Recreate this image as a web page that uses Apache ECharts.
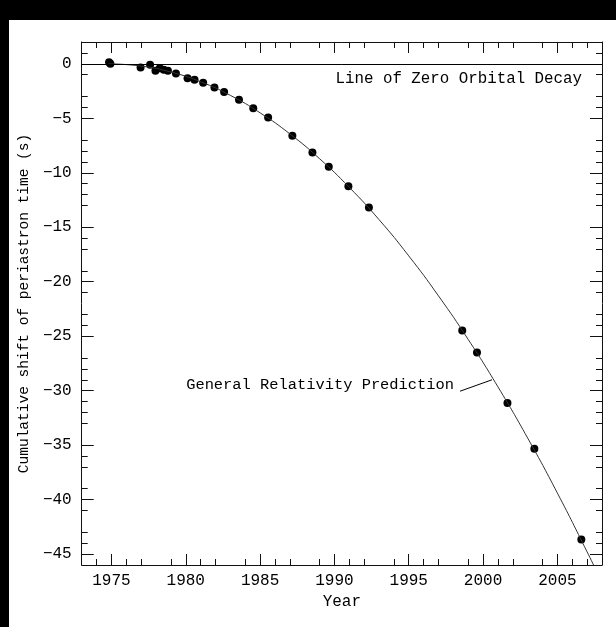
<!DOCTYPE html>
<html>
<head>
<meta charset="utf-8">
<script src="https://cdn.jsdelivr.net/npm/echarts@6/dist/echarts.min.js"></script>
<style>
html, body { margin: 0; padding: 0; background: #000; overflow: hidden; }
#main { position: absolute; left: 9px; top: 20px; width: 607px; height: 607px; background: #fff; }
</style>
</head>
<body>
<div id="main"></div>
<script>
// measured cumulative shift of periastron time (s)
const obsYears = [1974.84, 1974.93, 1976.96, 1977.6, 1977.96, 1978.25, 1978.52, 1978.8, 1979.34,
  1980.12, 1980.59, 1981.17, 1981.93, 1982.58, 1983.58, 1984.54, 1985.54, 1987.17, 1988.52,
  1989.62, 1990.94, 1992.32, 1998.6, 1999.59, 2001.64, 2003.45, 2006.61]
const obsShift = [0.15, 0.0, -0.34, -0.09, -0.64, -0.4, -0.55, -0.64, -0.89,
  -1.32, -1.47, -1.74, -2.17, -2.6, -3.3, -4.07, -4.93, -6.6, -8.15,
  -9.45, -11.23, -13.2, -24.47, -26.5, -31.14, -35.32, -43.67]

// general relativity prediction
const grYears = [1974.8, 1977, 1979, 1981, 1983, 1985, 1987, 1989, 1991, 1993, 1995,
  1997, 1999, 2001, 2003, 2005, 2007, 2008]
const grShift = [0, -0.21, -0.76, -1.65, -2.9, -4.5, -6.43, -8.71, -11.34, -14.3, -17.63,
  -21.3, -25.3, -29.65, -34.35, -39.4, -44.8, -47.6]

const xMajorTicks = [1975, 1980, 1985, 1990, 1995, 2000, 2005]
const yMajorTicks = [-45, -40, -35, -30, -25, -20, -15, -10, -5, 0]

const FONT = 'Liberation Mono'
const ink = '#111'

const chart = echarts.init(document.getElementById('main'))

// scale steps are chosen so the minor ticks land on every whole unit;
// the long ticks and the labels come from the custom value lists
function xAxis(position) {
  const labelled = position === 'bottom'
  return {
    type: 'value',
    position,
    min: 1973,
    max: 2008,
    interval: 5,
    splitLine: { show: false },
    axisLine: { onZero: false, lineStyle: { color: ink, width: 1 } },
    axisTick: { inside: true, length: 11, customValues: xMajorTicks, lineStyle: { color: ink } },
    minorTick: { show: true, splitNumber: 5, length: 6, lineStyle: { color: ink } },
    axisLabel: labelled
      ? {
          customValues: xMajorTicks, color: '#000', fontFamily: FONT, fontSize: 16, margin: 8,
          formatter: (v) => String(v)
        }
      : { show: false },
    name: labelled ? 'Year' : '',
    nameLocation: 'middle',
    nameGap: 28,
    nameTextStyle: { color: '#000', fontFamily: FONT, fontSize: 16, verticalAlign: 'top' }
  }
}

function yAxis(position) {
  const labelled = position === 'left'
  return {
    type: 'value',
    position,
    min: -46,
    max: 2,
    interval: 4,
    splitLine: { show: false },
    axisLine: { onZero: false, lineStyle: { color: ink, width: 1 } },
    axisTick: { inside: true, length: 12, customValues: yMajorTicks, lineStyle: { color: ink } },
    minorTick: { show: true, splitNumber: 4, length: 6, lineStyle: { color: ink } },
    axisLabel: labelled
      ? {
          customValues: yMajorTicks, color: '#000', fontFamily: FONT, fontSize: 16, margin: 10,
          formatter: (v) => (v < 0 ? '\u2212' + Math.abs(v) : String(v))
        }
      : { show: false },
    name: labelled ? 'Cumulative shift of periastron time (s)' : '',
    nameLocation: 'middle',
    nameGap: 33,
    nameTextStyle: { color: '#000', fontFamily: FONT, fontSize: 14.5 }
  }
}

const option = {
  animation: false,
  backgroundColor: '#fff',
  grid: { left: 70, top: 22, width: 523, height: 523 },
  xAxis: [xAxis('bottom'), xAxis('top')],
  yAxis: [yAxis('left'), yAxis('right')],
  graphic: [
    {
      type: 'text',
      x: 573,
      y: 59,
      style: {
        text: 'Line of Zero Orbital Decay',
        font: '15.8px "Liberation Mono"',
        fill: '#000',
        align: 'right',
        verticalAlign: 'middle',
        textAlign: 'right',
        textVerticalAlign: 'middle'
      }
    },
    {
      type: 'text',
      x: 445,
      y: 365,
      style: {
        text: 'General Relativity Prediction',
        font: '15.4px "Liberation Mono"',
        fill: '#000',
        align: 'right',
        verticalAlign: 'middle',
        textAlign: 'right',
        textVerticalAlign: 'middle'
      }
    }
  ],
  series: [
    {
      name: 'GR prediction',
      type: 'line',
      smooth: true,
      showSymbol: false,
      clip: true,
      silent: true,
      data: grYears.map((y, i) => [y, grShift[i]]),
      lineStyle: { color: '#333', width: 1 },
      markLine: {
        silent: true,
        symbol: 'none',
        label: { show: false },
        lineStyle: { color: '#000', width: 1, type: 'solid' },
        data: [
          { yAxis: 0 },
          [{ coord: [1998.45, -30.05] }, { coord: [2000.6, -29.0] }]
        ]
      }
    },
    {
      name: 'Observed',
      type: 'scatter',
      symbol: 'circle',
      symbolSize: 8,
      itemStyle: { color: '#000', opacity: 1 },
      data: obsYears.map((y, i) => [y, obsShift[i]])
    }
  ]
}

chart.setOption(option)
</script>
</body>
</html>
